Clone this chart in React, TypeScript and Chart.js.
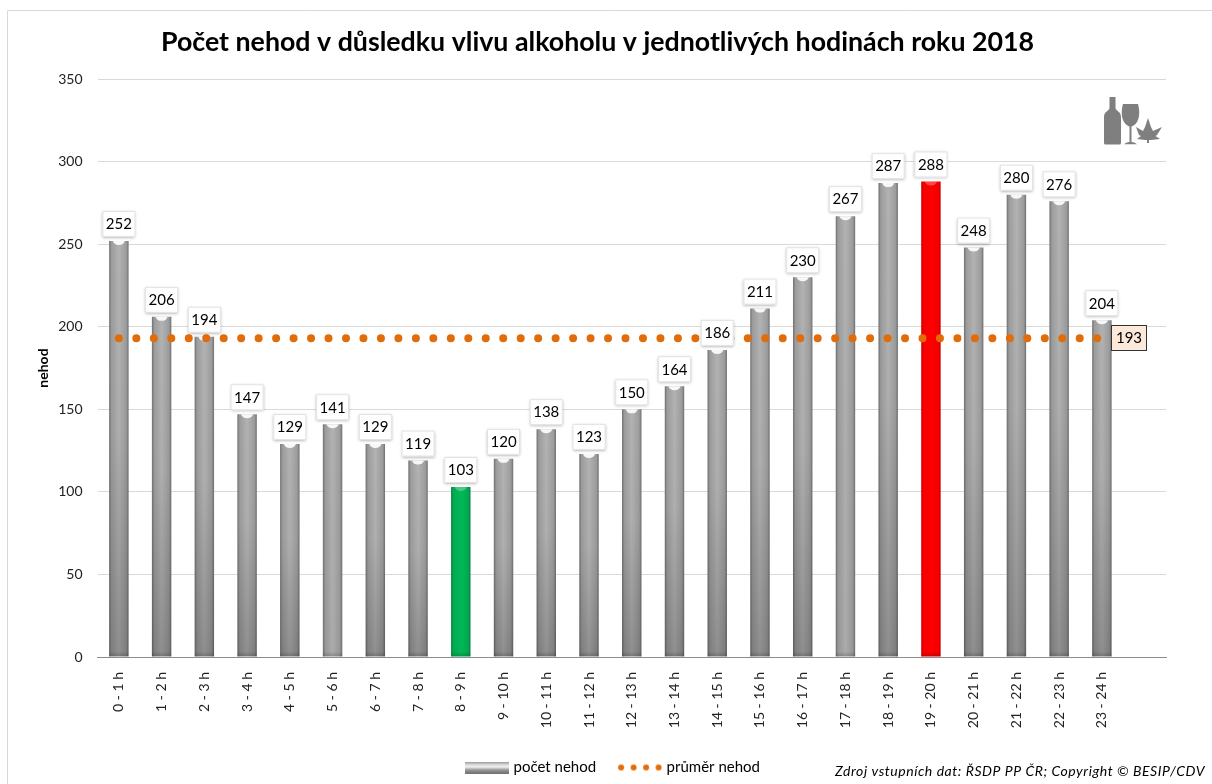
import React, { useEffect, useRef } from "react";
import { Chart, registerables } from "chart.js";

Chart.register(...registerables);

const hours = ["0 - 1 h","1 - 2 h","2 - 3 h","3 - 4 h","4 - 5 h","5 - 6 h","6 - 7 h","7 - 8 h","8 - 9 h","9 - 10 h","10 - 11 h","11 - 12 h","12 - 13 h","13 - 14 h","14 - 15 h","15 - 16 h","16 - 17 h","17 - 18 h","18 - 19 h","19 - 20 h","20 - 21 h","21 - 22 h","22 - 23 h","23 - 24 h",""];
const accidents = [252,206,194,147,129,141,129,119,103,120,138,123,150,164,186,211,230,267,287,288,248,280,276,204,null];
const average = [193,193,193,193,193,193,193,193,193,193,193,193,193,193,193,193,193,193,193,193,193,193,193,193,null];
const TITLE = "Počet nehod v důsledku vlivu alkoholu v jednotlivých hodinách roku 2018";
const SOURCE = "Zdroj vstupních dat: ŘSDP PP ČR; Copyright © BESIP/CDV";
const FONT = "Lato";
const LOW_INDEX = 8;
const HIGH_INDEX = 19;
const PALE_BARS = [5, 17];

function barStops(i: number): [string, string, string] {
  if (i === LOW_INDEX) return ["#0a7f45", "#00a94f", "#00b858"];
  if (i === HIGH_INDEX) return ["#c80000", "#f60000", "#ff0000"];
  return ["#6f6f6f", "#9c9c9c", "#b2b2b2"];
}

function fillGradient(g: CanvasGradient, c: [string, string, string]) {
  g.addColorStop(0, c[0]);
  g.addColorStop(0.12, c[1]);
  g.addColorStop(0.5, c[2]);
  g.addColorStop(0.88, c[1]);
  g.addColorStop(1, c[0]);
  return g;
}

function legendSwatch() {
  const c = document.createElement("canvas");
  c.width = 44; c.height = 12;
  const x = c.getContext("2d")!;
  const g = x.createLinearGradient(0, 0, 0, 12);
  g.addColorStop(0, "#8a8a8a");
  g.addColorStop(0.25, "#d8d8d8");
  g.addColorStop(0.45, "#f2f2f2");
  g.addColorStop(0.7, "#999999");
  g.addColorStop(1, "#6e6e6e");
  x.fillStyle = g;
  x.fillRect(0, 0, 44, 12);
  return c;
}

function legendDots() {
  const c = document.createElement("canvas");
  c.width = 48; c.height = 10;
  const x = c.getContext("2d")!;
  x.fillStyle = "#E36C0A";
  [5, 17.5, 30, 42.5].forEach((p) => {
    x.beginPath(); x.arc(p, 5, 3, 0, Math.PI * 2); x.fill();
  });
  return c;
}

const framePlugin = {
  id: "frame",
  beforeDraw(chart: any) {
    const c = chart.ctx;
    c.save();
    c.fillStyle = "#fff";
    c.fillRect(0, 0, chart.width, chart.height);
    c.strokeStyle = "#d9d9d9";
    c.lineWidth = 1;
    c.beginPath();
    c.moveTo(7.5, chart.height);
    c.lineTo(7.5, 10.5);
    c.lineTo(chart.width, 10.5);
    c.stroke();
    c.restore();
  },
  afterLayout(chart: any) {
    const legendShift = 31;
    const legendDrop = 1;
    chart.legend.left += legendShift;
    chart.legend.right += legendShift;
    chart.legend.top += legendDrop;
    chart.legend.bottom += legendDrop;
    chart.titleBlock.left += 14.5;
    chart.titleBlock.right += 14.5;
  },
};

const barDecor = {
  id: "barDecor",
  afterDatasetDraw(chart: any, args: any) {
    if (args.index !== 0) return;
    const c = chart.ctx;
    args.meta.data.forEach((b: any, i: number) => {
      if (accidents[i] == null) return;
      const w = b.width, l = b.x - w / 2, base = b.base, top = b.y;
      c.save();
      c.beginPath();
      c.rect(l, top, w, base - top);
      c.clip();
      const special = i === LOW_INDEX || i === HIGH_INDEX;
      if (!special) {
        const strength = PALE_BARS.includes(i) ? 0.04 : 0.2;
        const g = c.createLinearGradient(0, top, 0, base);
        g.addColorStop(0, "rgba(0,0,0,0)");
        g.addColorStop(0.45, "rgba(0,0,0,0.02)");
        g.addColorStop(1, `rgba(0,0,0,${strength})`);
        c.fillStyle = g;
        c.fillRect(l, top, w, base - top);
      }
      const e = c.createLinearGradient(0, base - 5, 0, base);
      e.addColorStop(0, "rgba(0,0,0,0)");
      e.addColorStop(1, "rgba(0,0,0,0.18)");
      c.fillStyle = e;
      c.fillRect(l, base - 5, w, 5);
      c.fillStyle = special ? "rgba(255,255,255,0.28)" : "rgba(255,255,255,0.9)";
      c.beginPath();
      c.ellipse(b.x, top, w * 0.3, 4, 0, 0, Math.PI * 2);
      c.fill();
      c.restore();
    });
  },
};

const labelBoxes = {
  id: "labelBoxes",
  afterDatasetsDraw(chart: any) {
    const c = chart.ctx;
    const meta = chart.getDatasetMeta(0);
    c.save();
    c.textAlign = "center";
    c.textBaseline = "middle";
    c.font = `15px ${FONT}`;
    meta.data.forEach((b: any, i: number) => {
      const v = accidents[i];
      if (v == null) return;
      const w = 33, h = 26, x = b.x - w / 2, y = b.y - 4 - h;
      c.save();
      c.shadowColor = "rgba(0,0,0,0.35)";
      c.shadowBlur = 3;
      c.shadowOffsetX = 0;
      c.shadowOffsetY = 1;
      c.fillStyle = "#fff";
      c.fillRect(x, y, w, h);
      c.restore();
      c.strokeStyle = "#e2e2e2";
      c.lineWidth = 1;
      c.strokeRect(x + 0.5, y + 0.5, w - 1, h - 1);
      c.fillStyle = "#000";
      c.fillText(String(v), b.x, y + h / 2 + 0.5);
    });
    const line = chart.getDatasetMeta(1).data;
    const last = line[23];
    const bw = 35, bh = 25, bx = Math.round(last.x) + 9.5, by = Math.round(last.y) - 12.5;
    c.fillStyle = "#FDE9D9";
    c.fillRect(bx, by, bw, bh);
    c.strokeStyle = "#333";
    c.lineWidth = 1;
    c.strokeRect(bx, by, bw, bh);
    c.fillStyle = "#000";
    c.fillText(String(average[23]), bx + bw / 2, by + bh / 2 + 0.5);
    c.restore();
  },
};

const cornerArt = {
  id: "cornerArt",
  afterDraw(chart: any) {
    const c = chart.ctx;
    c.save();
    c.font = `italic 14px ${FONT}`;
    (c as any).letterSpacing = "0.55px";
    c.fillStyle = "#000";
    c.textAlign = "left";
    c.textBaseline = "middle";
    c.fillText(SOURCE, 835, 771);
    (c as any).letterSpacing = "0px";

    c.fillStyle = "#7f7f7f";
    c.fill(new Path2D("M1109.5 97h6v11c0 3 5.500 3 5.500 9v26q0 1.500 -1.500 1.500h-14q-1.500 0 -1.500 -1.500v-26c0 -6 5.500 -6 5.500 -9z"));
    c.fill(new Path2D("M1123 104h15c2 7 1.500 14 -1 18c-1.500 2.500 -4 4 -5.500 4.500v15.500c2 .5 4.500 .8 5.500 2.300h-13c1 -1.500 3.500 -1.800 5.500 -2.300v-15.500c-1.500 -.5 -4 -2 -5.500 -4.500c-2.500 -4 -3 -11 -1 -18z"));
    c.fill(new Path2D("M1148 118L1151 127L1153 131L1162 127L1157 135L1155.500 136L1160 139L1151 140L1149 140L1149 143L1147 143L1147 140L1145 140L1137 139L1141 136L1139 135L1136 127L1143 131L1145 127Z"));
    c.restore();
  },
};

export default function App() {
  const ref = useRef<HTMLCanvasElement>(null);
  useEffect(() => {
    if (!ref.current) return;
    const chart = new Chart(ref.current, {
      data: {
        labels: hours,
        datasets: [
          {
            type: "bar",
            label: "počet nehod",
            data: accidents,
            order: 2,
            categoryPercentage: 1,
            barPercentage: 0.455,
            backgroundColor: (ctx: any) => {
              const ch = ctx.chart;
              const i = ctx.dataIndex;
              if (!ch.chartArea || !ch.scales.x || i == null) return "#aaa";
              const x = ch.scales.x.getPixelForValue(i);
              const g = ch.ctx.createLinearGradient(x - 9.7, 0, x + 9.7, 0);
              return fillGradient(g, barStops(i));
            },
          },
          {
            type: "line",
            label: "průměr nehod",
            data: average,
            order: 1,
            borderColor: "#E36C0A",
            borderWidth: 8,
            borderDash: [0.01, 17.46],
            borderCapStyle: "round",
            pointRadius: 0,
            fill: false,
          },
        ],
      } as any,
      options: {
        responsive: false,
        animation: false,
        layout: { padding: { left: 0, right: 46, top: 0, bottom: 0 } },
        plugins: {
          tooltip: { enabled: false },
          title: {
            display: true,
            text: TITLE,
            color: "#000",
            font: { family: FONT, size: 26.75, weight: "bold" },
            padding: { top: 26, bottom: 21 },
          },
          legend: {
            display: true,
            position: "bottom",
            labels: {
              color: "#222",
              font: { family: FONT, size: 15 },
              usePointStyle: true,
              pointStyleWidth: 38,
              padding: 25,
              generateLabels: () => [
                { text: "počet nehod", pointStyle: legendSwatch(), fillStyle: "#aaa", strokeStyle: "#aaa", lineWidth: 0, datasetIndex: 0 },
                { text: "průměr nehod", pointStyle: legendDots(), fillStyle: "#E36C0A", strokeStyle: "#E36C0A", lineWidth: 0, datasetIndex: 1 },
              ],
            },
          },
        },
        scales: {
          x: {
            grid: { display: false },
            border: { color: "#8c8c8c", width: 1 },
            ticks: {
              autoSkip: false,
              maxRotation: 90,
              minRotation: 90,
              padding: 7,
              color: "#222",
              font: { family: FONT, size: 14 },
            },
            afterFit: (s: any) => { s.height = 77; },
          },
          y: {
            min: 0,
            max: 350,
            ticks: { stepSize: 50, padding: 15, color: "#222", font: { family: FONT, size: 14 } },
            grid: { color: "#d9d9d9", drawTicks: false },
            border: { display: false },
            title: {
              display: true,
              text: "nehod",
              color: "#000",
              font: { family: FONT, size: 14, weight: "bold" },
              padding: { top: 35, bottom: 0 },
            },
            afterFit: (s: any) => { s.width = 97.5; },
          },
        },
      } as any,
      plugins: [framePlugin, barDecor, labelBoxes, cornerArt],
    });
    return () => chart.destroy();
  }, []);
  return (
    <div style={{ position: "fixed", left: 0, top: 0, width: 1212, height: 784, background: "#fff" }}>
      <canvas ref={ref} width={1212} height={784} style={{ display: "block" }} />
    </div>
  );
}
